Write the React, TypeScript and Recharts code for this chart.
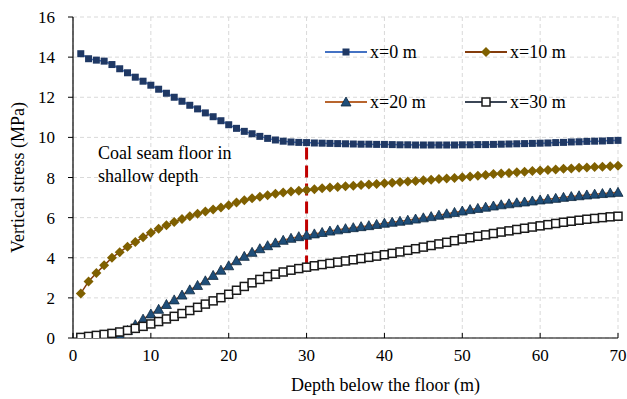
import React from "react";
import { LineChart, Line, XAxis, YAxis, CartesianGrid, ReferenceLine, Legend } from "recharts";

const FONT = '"Liberation Serif", "Times New Roman", serif';

// depth below the floor (m)
const depth = [
  1, 2, 3, 4, 5, 6, 7, 8, 9, 10, 11, 12, 13, 14, 15, 16, 17, 18, 19, 20,
  21, 22, 23, 24, 25, 26, 27, 28, 29, 30, 31, 32, 33, 34, 35, 36, 37, 38, 39, 40,
  41, 42, 43, 44, 45, 46, 47, 48, 49, 50, 51, 52, 53, 54, 55, 56, 57, 58, 59, 60,
  61, 62, 63, 64, 65, 66, 67, 68, 69, 70,
];

// vertical stress (MPa) for each distance x
const stressX0 = [
  14.17, 13.92, 13.85, 13.8, 13.63, 13.42, 13.22, 13.0, 12.8, 12.6,
  12.4, 12.2, 12.0, 11.8, 11.6, 11.42, 11.22, 11.03, 10.83, 10.63,
  10.45, 10.3, 10.18, 10.05, 9.95, 9.87, 9.81, 9.77, 9.75, 9.74,
  9.72, 9.71, 9.7, 9.69, 9.68, 9.67, 9.66, 9.66, 9.65, 9.65,
  9.64, 9.63, 9.63, 9.62, 9.62, 9.62, 9.62, 9.62, 9.62, 9.63,
  9.63, 9.64, 9.64, 9.65, 9.66, 9.67, 9.68, 9.69, 9.7, 9.71,
  9.72, 9.74, 9.75, 9.77, 9.78, 9.8, 9.81, 9.82, 9.84, 9.85,
];
const stressX10 = [
  2.22, 2.82, 3.24, 3.62, 4.0, 4.28, 4.55, 4.78, 5.02, 5.24,
  5.44, 5.62, 5.78, 5.93, 6.07, 6.19, 6.3, 6.4, 6.5, 6.62,
  6.76, 6.87, 6.96, 7.04, 7.12, 7.19, 7.25, 7.3, 7.34, 7.38,
  7.42, 7.46, 7.5, 7.53, 7.56, 7.59, 7.62, 7.65, 7.68, 7.71,
  7.74, 7.77, 7.8, 7.83, 7.86, 7.89, 7.92, 7.95, 7.98, 8.01,
  8.05, 8.09, 8.13, 8.17, 8.2, 8.23, 8.26, 8.29, 8.32, 8.35,
  8.37, 8.4, 8.43, 8.45, 8.48, 8.5, 8.52, 8.54, 8.56, 8.58,
];
const stressX20 = [
  -0.45, -0.32, -0.2, -0.08, 0.03, 0.14, 0.38, 0.66, 0.94, 1.2,
  1.43, 1.67, 1.9, 2.14, 2.4, 2.62, 2.85, 3.12, 3.38, 3.6,
  3.85, 4.07, 4.27, 4.45, 4.6, 4.74, 4.87, 4.97, 5.05, 5.12,
  5.19, 5.26, 5.33, 5.39, 5.45, 5.5, 5.55, 5.6, 5.66, 5.72,
  5.77, 5.82, 5.87, 5.93, 5.99, 6.05, 6.12, 6.19, 6.26, 6.33,
  6.4, 6.46, 6.52, 6.58, 6.64, 6.69, 6.74, 6.78, 6.83, 6.88,
  6.92, 6.96, 7.01, 7.05, 7.09, 7.13, 7.17, 7.2, 7.23, 7.26,
];
const stressX30 = [
  0.03, 0.08, 0.13, 0.18, 0.23, 0.3, 0.38, 0.48, 0.58, 0.7,
  0.82, 0.95, 1.08, 1.22, 1.37, 1.53, 1.69, 1.85, 2.01, 2.18,
  2.38, 2.57, 2.75, 2.92, 3.06, 3.18, 3.29, 3.38, 3.46, 3.53,
  3.6, 3.66, 3.72, 3.78, 3.84, 3.9, 3.96, 4.02, 4.08, 4.15,
  4.22, 4.29, 4.37, 4.45, 4.53, 4.61, 4.69, 4.77, 4.85, 4.93,
  5.0, 5.07, 5.14, 5.21, 5.28, 5.34, 5.41, 5.47, 5.53, 5.59,
  5.65, 5.71, 5.77, 5.82, 5.87, 5.92, 5.96, 6.0, 6.04, 6.07,
];

const xTicks = [0, 10, 20, 30, 40, 50, 60, 70];
const yTicks = [0, 2, 4, 6, 8, 10, 12, 14, 16];

// shallow-depth boundary marker
const boundaryDepth = 30;
const boundaryTop = 9.5;
const boundaryBottom = 3.45;

const data = depth.map((d, i) => ({
  depth: d,
  x0: stressX0[i],
  x10: stressX10[i],
  x20: stressX20[i],
  x30: stressX30[i],
}));

type Shape = "square" | "diamond" | "triangle" | "open";

const SERIES: { key: string; name: string; line: string; shape: Shape }[] = [
  { key: "x0", name: "x=0 m", line: "#4472C4", shape: "square" },
  { key: "x10", name: "x=10 m", line: "#843C0C", shape: "diamond" },
  { key: "x20", name: "x=20 m", line: "#B8652E", shape: "triangle" },
  { key: "x30", name: "x=30 m", line: "#3B4656", shape: "open" },
];

function marker(shape: Shape, cx: number, cy: number, key?: string) {
  switch (shape) {
    case "square":
      return <rect key={key} x={cx - 3.5} y={cy - 3.5} width={7} height={7} fill="#1F3864" />;
    case "diamond":
      return (
        <polygon
          key={key}
          points={`${cx},${cy - 5} ${cx + 5},${cy} ${cx},${cy + 5} ${cx - 5},${cy}`}
          fill="#7F6000"
        />
      );
    case "triangle":
      return (
        <polygon
          key={key}
          points={`${cx},${cy - 5} ${cx + 5},${cy + 4} ${cx - 5},${cy + 4}`}
          fill="#1F4E79"
          stroke="#10283F"
          strokeWidth={0.8}
        />
      );
    default:
      return (
        <rect
          key={key}
          x={cx - 4}
          y={cy - 4}
          width={8}
          height={8}
          fill="#fff"
          stroke="#1A1A1A"
          strokeWidth={1.5}
        />
      );
  }
}

function makeDot(shape: Shape, dataKey: string) {
  return (p: any) => {
    const k = `${dataKey}-${p.index}`;
    const v = p.payload ? p.payload[dataKey] : p.value;
    if (p.cx == null || p.cy == null || v < 0) return <g key={k} />;
    return marker(shape, p.cx, p.cy, k);
  };
}

function LegendBox() {
  return (
    <div style={{ position: "relative", width: 300, height: 80, fontFamily: FONT }}>
      {SERIES.map((s, i) => (
        <div
          key={s.key}
          style={{
            position: "absolute",
            left: (i % 2) * 140,
            top: Math.floor(i / 2) * 50,
            height: 20,
            display: "flex",
            alignItems: "center",
            whiteSpace: "nowrap",
          }}
        >
          <svg width={42} height={14} style={{ display: "block" }}>
            <line x1={0} y1={7} x2={42} y2={7} stroke={s.line} strokeWidth={2} />
            {marker(s.shape, 21, 7)}
          </svg>
          <span style={{ marginLeft: 3, fontSize: 18, lineHeight: "20px", color: "#000" }}>{s.name}</span>
        </div>
      ))}
    </div>
  );
}

function XTitle(props: any) {
  const vb = props.viewBox || { x: 73, y: 338, width: 545 };
  return (
    <text
      x={vb.x + vb.width / 2 + 40}
      y={vb.y + 53}
      textAnchor="middle"
      fontSize={18}
      fontFamily={FONT}
      fill="#000"
    >
      Depth below the floor (m)
    </text>
  );
}

export default function App() {
  return (
    <div style={{ position: "absolute", left: 0, top: 0, width: 627, height: 399, background: "#fff" }}>
      <LineChart width={627} height={399} data={data} margin={{ top: 17, right: 9, bottom: 0, left: 0 }}>
        <CartesianGrid stroke="#D9D9D9" strokeDasharray="4 3" />
        <XAxis
          dataKey="depth"
          type="number"
          domain={[0, 70]}
          ticks={xTicks}
          interval={0}
          height={61}
          axisLine={{ stroke: "#000", strokeWidth: 1.2 }}
          tickLine={{ stroke: "#000" }}
          tickSize={-5}
          tickMargin={16}
          tick={{ fontSize: 17, fill: "#000", fontFamily: FONT }}
          label={{ content: XTitle }}
        />
        <YAxis
          type="number"
          domain={[0, 16]}
          ticks={yTicks}
          interval={0}
          allowDataOverflow
          width={73}
          axisLine={{ stroke: "#000", strokeWidth: 1.2 }}
          tickLine={{ stroke: "#000" }}
          tickSize={5}
          tickMargin={13}
          tick={{ fontSize: 17, fill: "#000", fontFamily: FONT }}
          label={{
            value: "Vertical stress (MPa)",
            angle: -90,
            position: "insideLeft",
            offset: 18,
            style: { textAnchor: "middle", fontSize: 18, fill: "#000", fontFamily: FONT },
          }}
        />
        {SERIES.map((s) => (
          <Line
            key={s.key}
            dataKey={s.key}
            name={s.name}
            type="linear"
            stroke={s.line}
            strokeWidth={1.5}
            dot={makeDot(s.shape, s.key)}
            activeDot={false}
            isAnimationActive={false}
          />
        ))}
        <ReferenceLine
          segment={[
            { x: boundaryDepth, y: boundaryTop },
            { x: boundaryDepth, y: boundaryBottom },
          ]}
          stroke="#C00000"
          strokeWidth={3}
          strokeDasharray="12 6"
        />
        <Legend
          layout="horizontal"
          verticalAlign="middle"
          align="center"
          wrapperStyle={{ left: 325, top: 42, width: 300, height: 80 }}
          content={() => <LegendBox />}
        />
      </LineChart>
      <div
        style={{
          position: "absolute",
          left: 98,
          top: 142,
          fontFamily: FONT,
          fontSize: 18,
          lineHeight: "23px",
          color: "#000",
          whiteSpace: "nowrap",
        }}
      >
        Coal seam floor in
        <br />
        shallow depth
      </div>
    </div>
  );
}
